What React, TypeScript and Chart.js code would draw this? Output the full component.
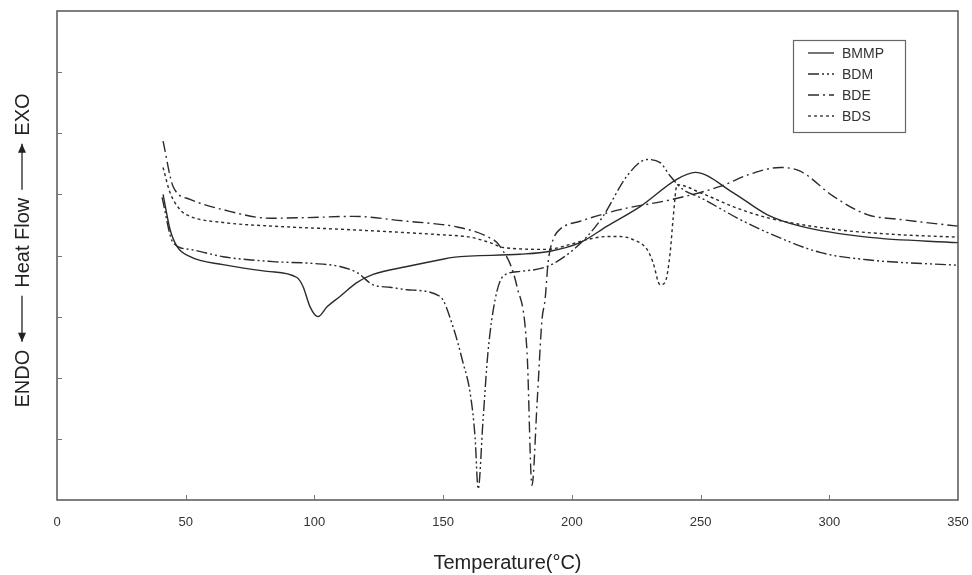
import { useEffect, useRef } from 'react';
import { Chart, registerables } from 'chart.js';

Chart.register(...registerables);

const seriesNames = ['BMMP', 'BDM', 'BDE', 'BDS'];
const xTicks = [0, 50, 100, 150, 200, 250, 300, 350];
const yTitleParts = ['ENDO', 'Heat Flow', 'EXO'];

const bmmpTemp = [41.2, 43.9, 46.6, 51.7, 64.5, 81.6, 93.2, 95.6, 98.3, 101.4, 104.9, 109.9, 116.6, 122.8, 136.0, 148.8, 153.8, 179.9, 191.5, 203.2, 213.7, 226.5, 240.9, 247.9, 262.6, 275.8, 288.7, 314.7, 350];
const bmmpFlow = [5.0, 4.43, 4.15, 3.98, 3.85, 3.74, 3.64, 3.49, 3.16, 3.0, 3.16, 3.33, 3.56, 3.69, 3.82, 3.93, 3.97, 4.02, 4.07, 4.21, 4.48, 4.8, 5.25, 5.36, 5.03, 4.67, 4.48, 4.3, 4.21];

const bdmTemp = [40.8, 45.1, 51.7, 64.5, 83.9, 99.5, 109.9, 116.6, 122.8, 129.4, 136.0, 148.8, 153.8, 157.7, 160.5, 162.4, 163.6, 165.5, 167.4, 170.2, 173.3, 179.9, 190.4, 199.3, 205.9, 212.1, 221.4, 229.2, 234.3, 238.2, 243.2, 249.8, 265.3, 275.8, 296.4, 314.7, 350];
const bdmFlow = [4.95, 4.21, 4.1, 3.98, 3.9, 3.87, 3.82, 3.72, 3.52, 3.48, 3.44, 3.33, 2.84, 2.25, 1.75, 1.03, 0.18, 1.31, 2.41, 3.28, 3.66, 3.74, 3.82, 4.05, 4.31, 4.64, 5.3, 5.57, 5.52, 5.3, 5.08, 4.95, 4.59, 4.38, 4.05, 3.93, 3.84];

const bdeTemp = [41.2, 45.1, 51.7, 64.5, 82.8, 97.1, 115.0, 136.0, 148.8, 153.8, 167.1, 172.1, 178.7, 182.6, 184.5, 186.5, 188.4, 189.6, 190.8, 192.7, 195.4, 203.2, 218.7, 239.3, 257.6, 269.2, 280.9, 288.7, 301.5, 314.7, 327.5, 350];
const bdeFlow = [5.87, 5.13, 4.92, 4.75, 4.61, 4.62, 4.64, 4.56, 4.51, 4.48, 4.31, 4.15, 3.49, 2.41, 0.24, 1.59, 2.95, 3.28, 3.9, 4.26, 4.43, 4.56, 4.75, 4.92, 5.13, 5.33, 5.44, 5.38, 4.97, 4.67, 4.59, 4.48];

const bdsTemp = [41.2, 43.9, 47.8, 51.7, 64.5, 83.9, 109.9, 148.8, 160.5, 168.2, 173.3, 190.4, 199.3, 205.9, 213.7, 218.7, 223.8, 229.2, 231.5, 234.3, 236.2, 238.2, 239.3, 240.9, 249.8, 262.6, 275.8, 301.5, 327.5, 350];
const bdsFlow = [5.44, 5.03, 4.75, 4.64, 4.54, 4.48, 4.43, 4.34, 4.3, 4.21, 4.13, 4.1, 4.18, 4.26, 4.31, 4.31, 4.26, 4.1, 3.89, 3.52, 3.56, 4.05, 4.59, 5.16, 5.03, 4.8, 4.62, 4.43, 4.34, 4.3];

const seriesTemps = [bmmpTemp, bdmTemp, bdeTemp, bdsTemp];
const seriesFlows = [bmmpFlow, bdmFlow, bdeFlow, bdsFlow];
const seriesDashes = [[], [11, 3, 2, 3, 2, 3], [11, 4, 2, 4], [3, 3]];

const FONT = '"Liberation Sans", Arial, "DejaVu Sans", sans-serif';
const INK = '#2b2b2b';

function drawArrow(ctx: CanvasRenderingContext2D, x0: number, x1: number, headAtStart: boolean) {
  ctx.beginPath();
  ctx.moveTo(x0, 0);
  ctx.lineTo(x1, 0);
  ctx.stroke();
  const hx = headAtStart ? x0 : x1;
  const dir = headAtStart ? 1 : -1;
  ctx.beginPath();
  ctx.moveTo(hx, 0);
  ctx.lineTo(hx + dir * 9, -4);
  ctx.lineTo(hx + dir * 9, 4);
  ctx.closePath();
  ctx.fill();
}

const framePlugin = {
  id: 'frameAndLegend',
  afterDatasetsDraw(chart: any) {
    const { ctx, chartArea: a, scales } = chart;
    ctx.save();
    ctx.strokeStyle = '#555';
    ctx.lineWidth = 1.5;
    ctx.setLineDash([]);
    ctx.strokeRect(a.left, a.top, a.right - a.left, a.bottom - a.top);
    ctx.lineWidth = 1;
    ctx.strokeStyle = '#777';
    scales.x.ticks.forEach((t: any) => {
      if (t.value <= scales.x.min || t.value >= scales.x.max) return;
      const px = Math.round(scales.x.getPixelForValue(t.value)) + 0.5;
      ctx.beginPath();
      ctx.moveTo(px, a.bottom);
      ctx.lineTo(px, a.bottom - 5);
      ctx.stroke();
    });
    scales.y.ticks.forEach((t: any) => {
      if (t.value <= scales.y.min || t.value >= scales.y.max) return;
      const py = Math.round(scales.y.getPixelForValue(t.value)) + 0.5;
      ctx.beginPath();
      ctx.moveTo(a.left, py);
      ctx.lineTo(a.left + 5, py);
      ctx.stroke();
    });

    // legend box
    const boxW = 112;
    const boxH = 92;
    const bx = a.right - 53 - boxW;
    const by = a.top + 29;
    ctx.strokeStyle = '#666';
    ctx.lineWidth = 1.2;
    ctx.strokeRect(bx + 0.5, by + 0.5, boxW, boxH);
    ctx.font = `14px ${FONT}`;
    ctx.textBaseline = 'middle';
    ctx.fillStyle = '#333';
    chart.data.datasets.forEach((ds: any, i: number) => {
      const ry = by + 13 + i * 21;
      ctx.strokeStyle = INK;
      ctx.lineWidth = 1.3;
      ctx.setLineDash(ds.borderDash || []);
      ctx.beginPath();
      ctx.moveTo(bx + 15, ry);
      ctx.lineTo(bx + 41, ry);
      ctx.stroke();
      ctx.setLineDash([]);
      ctx.fillText(ds.label, bx + 49, ry + 1);
    });

    // rotated y-axis title with arrows
    const gap = 8;
    const arrowLen = 46;
    ctx.font = `20px ${FONT}`;
    const w = yTitleParts.map((s) => ctx.measureText(s).width);
    const total = w[0] + w[1] + w[2] + 2 * arrowLen + 4 * gap;
    const cy = (a.top + a.bottom) / 2 - 5;
    ctx.translate(22, cy);
    ctx.rotate(-Math.PI / 2);
    ctx.fillStyle = '#222';
    ctx.strokeStyle = '#222';
    ctx.lineWidth = 1.3;
    ctx.textBaseline = 'middle';
    let x = -total / 2;
    ctx.fillText(yTitleParts[0], x, 1);
    x += w[0] + gap;
    drawArrow(ctx, x, x + arrowLen, true);
    x += arrowLen + gap;
    ctx.fillText(yTitleParts[1], x, 1);
    x += w[1] + gap;
    drawArrow(ctx, x, x + arrowLen, false);
    x += arrowLen + gap;
    ctx.fillText(yTitleParts[2], x, 1);
    ctx.restore();
  },
};

export default function App() {
  const canvasRef = useRef<HTMLCanvasElement | null>(null);

  useEffect(() => {
    const canvas = canvasRef.current;
    if (!canvas) return;
    const datasets = seriesNames.map((name, i) => ({
      label: name,
      data: seriesTemps[i].map((t, j) => ({ x: t, y: seriesFlows[i][j] })),
      borderColor: INK,
      borderWidth: 1.4,
      borderDash: seriesDashes[i],
      pointRadius: 0,
      fill: false,
      cubicInterpolationMode: 'monotone' as const,
    }));
    const chart = new Chart(canvas, {
      type: 'line',
      data: { datasets },
      plugins: [framePlugin],
      options: {
        animation: false,
        responsive: false,
        maintainAspectRatio: false,
        layout: { padding: { top: 11, right: 14, left: 0, bottom: 0 } },
        plugins: { legend: { display: false }, tooltip: { enabled: false } },
        scales: {
          x: {
            type: 'linear',
            min: 0,
            max: 350,
            afterBuildTicks: (scale: any) => {
              scale.ticks = xTicks.map((v) => ({ value: v }));
            },
            grid: { display: false, drawTicks: false },
            border: { display: false },
            ticks: {
              color: '#333',
              font: { family: FONT, size: 13 },
              padding: 15,
              maxRotation: 0,
              autoSkip: false,
            },
            title: {
              display: true,
              text: 'Temperature(\u00B0C)',
              color: '#222',
              font: { family: FONT, size: 20 },
              padding: { top: 0, bottom: 0 },
            },
            afterFit: (scale: any) => {
              scale.height = 75;
              scale.paddingLeft = 0;
              scale.paddingRight = 0;
            },
          },
          y: {
            type: 'linear',
            min: 0,
            max: 8,
            ticks: { display: false, stepSize: 1 },
            grid: { display: false, drawTicks: false },
            border: { display: false },
            title: { display: false },
            afterFit: (scale: any) => {
              scale.width = 57;
              scale.paddingTop = 0;
              scale.paddingBottom = 0;
            },
          },
        },
      },
    });
    return () => chart.destroy();
  }, []);

  return (
    <div style={{ position: 'fixed', left: 0, top: 0, width: 972, height: 575, background: '#fff' }}>
      <canvas ref={canvasRef} width={972} height={575} />
    </div>
  );
}
